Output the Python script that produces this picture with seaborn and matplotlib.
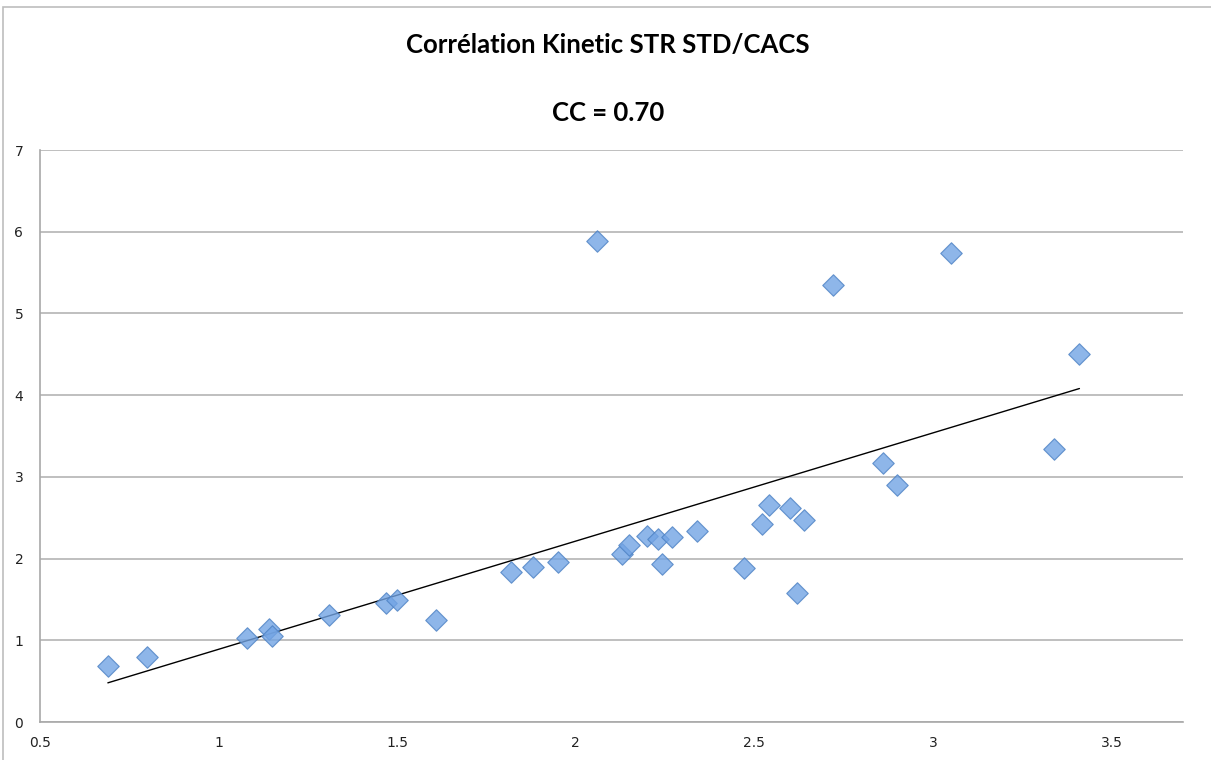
import numpy as np
import pandas as pd
import matplotlib
matplotlib.use("Agg")
import matplotlib.pyplot as plt
from matplotlib.patches import Rectangle
import seaborn as sns

# Kinetic STR STD (x) vs CACS (y)
kinetic = [0.69, 0.80, 1.08, 1.14, 1.15, 1.31, 1.47, 1.50, 1.61, 1.82,
           1.88, 1.95, 2.06, 2.13, 2.15, 2.20, 2.23, 2.24, 2.27, 2.34,
           2.47, 2.52, 2.54, 2.60, 2.62, 2.64, 2.72, 2.86, 2.90, 3.05,
           3.34, 3.41]
cacs = [0.69, 0.80, 1.03, 1.14, 1.05, 1.31, 1.46, 1.49, 1.25, 1.84,
        1.90, 1.96, 5.89, 2.06, 2.17, 2.28, 2.24, 1.93, 2.27, 2.34,
        1.88, 2.42, 2.66, 2.62, 1.58, 2.47, 5.35, 3.17, 2.90, 5.74,
        3.34, 4.50]

x_ticks = [0.5, 1, 1.5, 2, 2.5, 3, 3.5]
y_ticks = [0, 1, 2, 3, 4, 5, 6, 7]

df = pd.DataFrame({"kinetic": kinetic, "cacs": cacs})

sns.set_style("white")
fig = plt.figure(figsize=(12.11, 7.6), dpi=100)
ax = fig.add_axes([40 / 1211, 1 - 722 / 760, (1183 - 40) / 1211, (722 - 150) / 760])

sns.regplot(data=df, x="kinetic", y="cacs", ax=ax, ci=None, marker="D",
            scatter_kws=dict(s=120, color="#72a4e4", edgecolor="#4a7fc2",
                             linewidths=0.8, zorder=3),
            line_kws=dict(color="black", lw=1.0, zorder=2))

ax.set_xlim(0.5, 3.7)
ax.set_ylim(0, 7)
ax.set_xticks(x_ticks)
ax.set_xticklabels(["0.5", "1", "1.5", "2", "2.5", "3", "3.5"])
ax.set_yticks(y_ticks)
ax.set_xlabel("")
ax.set_ylabel("")
ax.yaxis.grid(True, color="#b4b4b4", lw=1.2)
ax.set_axisbelow(True)
for side in ["top", "right"]:
    ax.spines[side].set_visible(False)
for side in ["left", "bottom"]:
    ax.spines[side].set_color("#a8a8a8")
    ax.spines[side].set_linewidth(1.2)
ax.tick_params(axis="both", direction="out", length=4, width=1, color="#a8a8a8",
               labelsize=10, labelcolor="#222222")
ax.tick_params(axis="x", pad=6)
ax.tick_params(axis="y", pad=8)

fig.text(0.502, 1 - 45 / 760, "Corrélation Kinetic STR STD/CACS", ha="center",
         va="center", fontsize=18.5, fontweight="bold", color="black",
         family=["Lato", "DejaVu Sans"])
fig.text(0.502, 1 - 113 / 760, "CC = 0.70", ha="center", va="center",
         fontsize=18.5, fontweight="bold", color="black",
         family=["Lato", "DejaVu Sans"])

# chart frame
fig.patches.append(Rectangle((3 / 1211, -0.5), 2, 0.5 + 1 - 7 / 760,
                             transform=fig.transFigure, fill=False,
                             edgecolor="#bdbdbd", lw=1.2))

fig.savefig("out.png", dpi=100)
